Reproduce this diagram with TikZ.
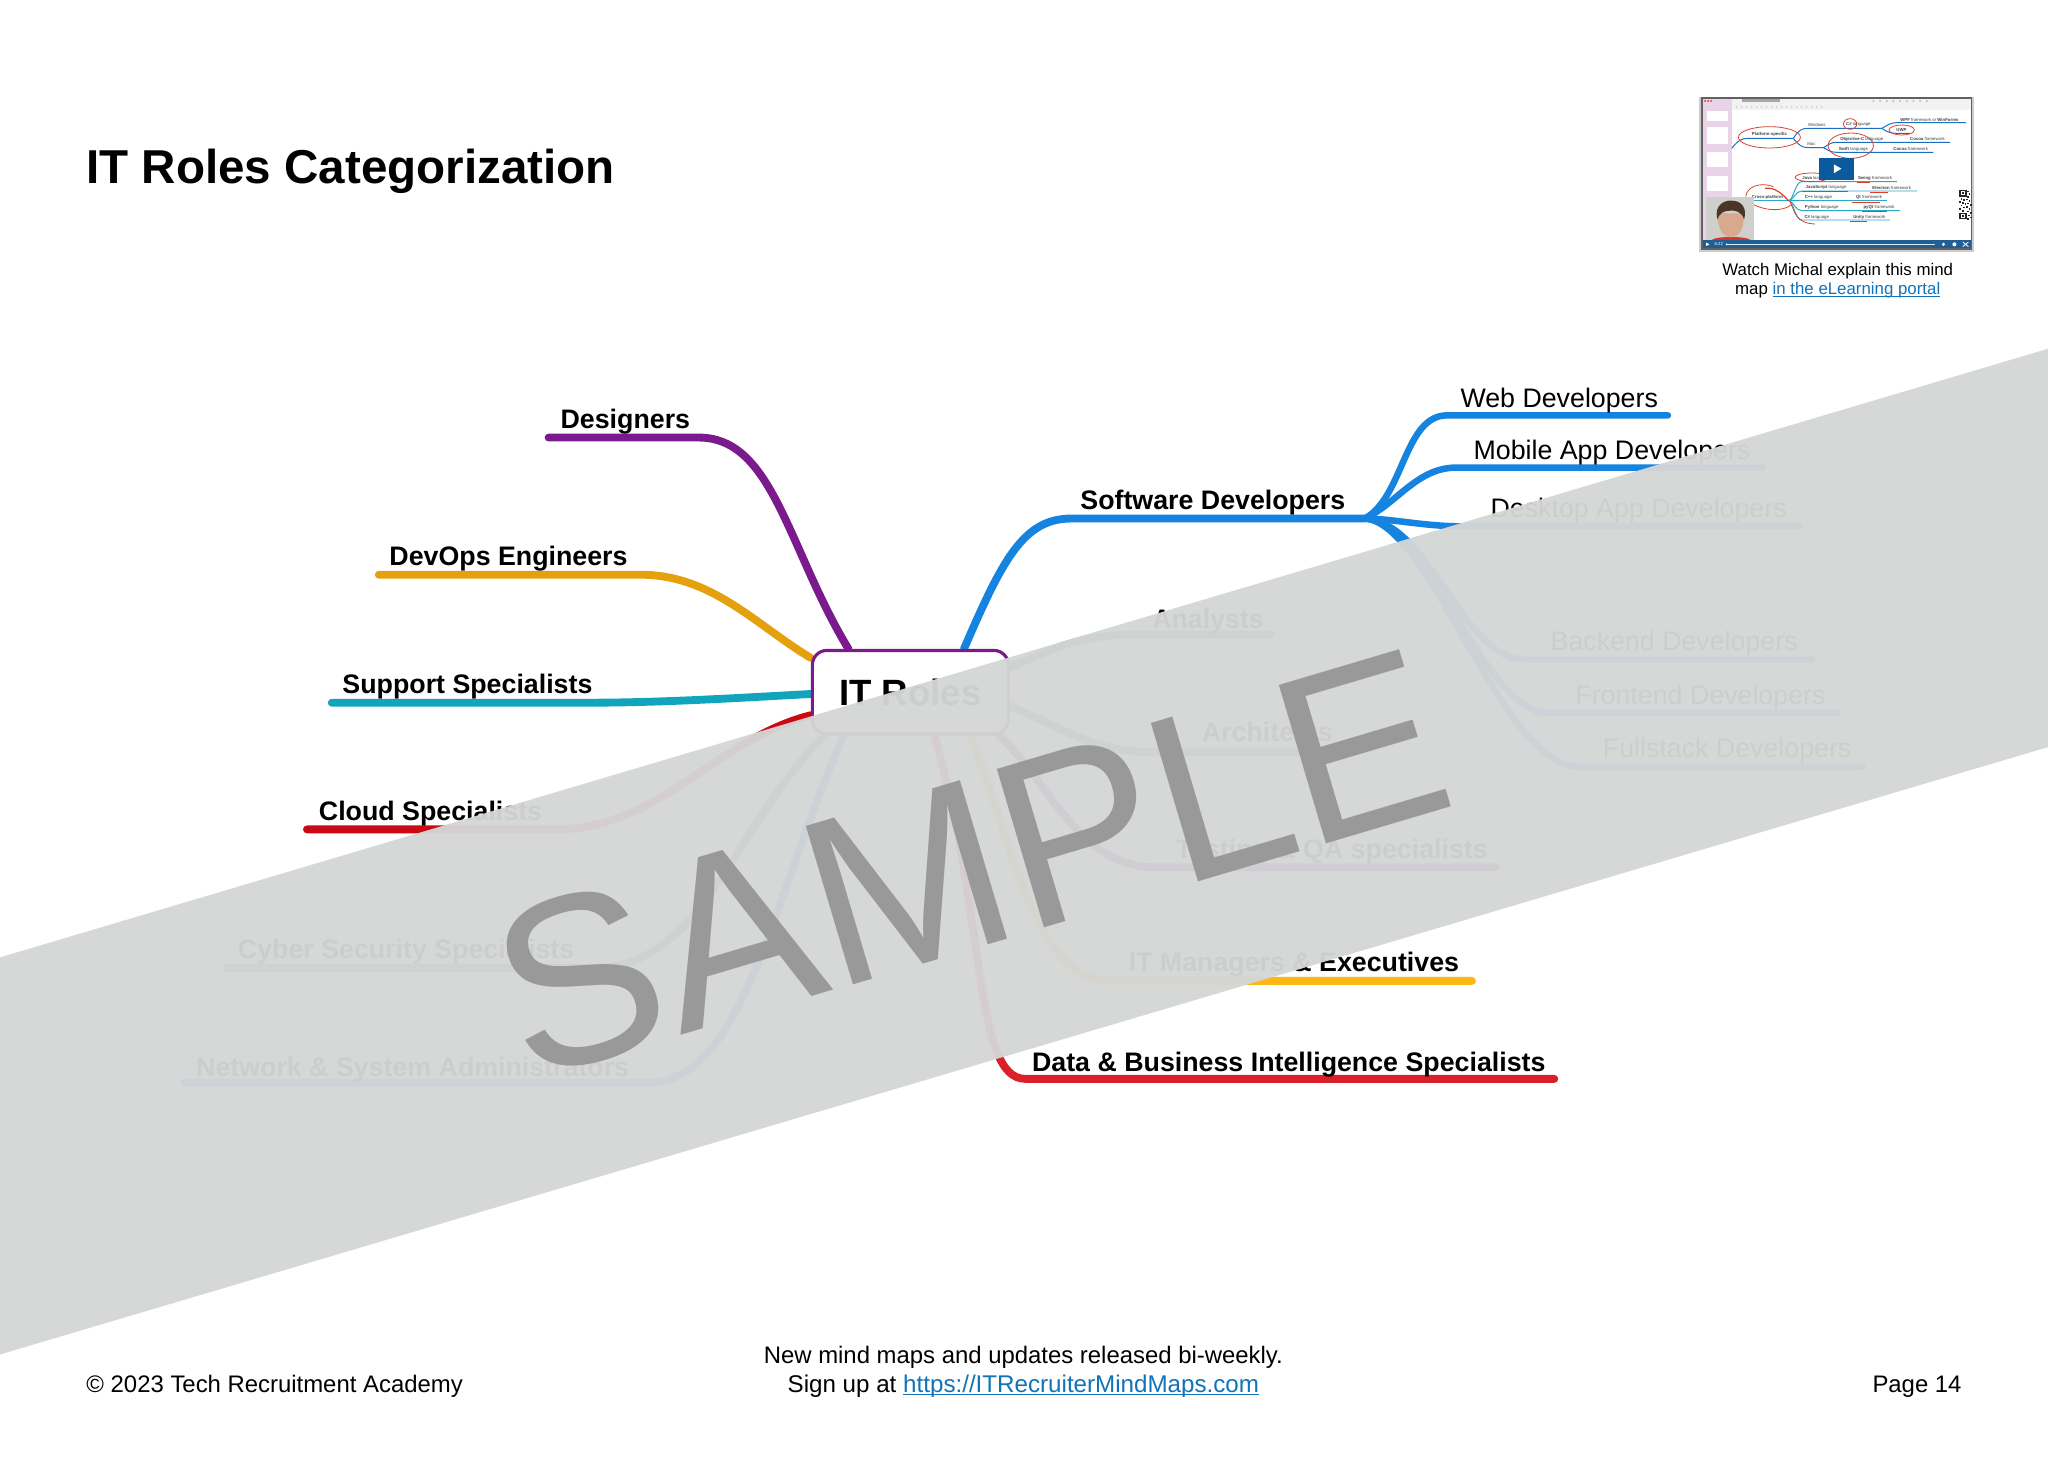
\documentclass[tikz,border=0pt]{standalone}
\usepackage{fontspec}
\setmainfont{Liberation Sans}
\usetikzlibrary{backgrounds}
\definecolor{cPurple}{HTML}{7B1A8C}
\definecolor{cAmber}{HTML}{E5A00D}
\definecolor{cTeal}{HTML}{10A5BC}
\definecolor{cRed}{HTML}{C90A14}
\definecolor{cGreen}{HTML}{3E9B4F}
\definecolor{cBlue}{HTML}{1484E0}
\definecolor{cYellow}{HTML}{FDB714}
\definecolor{cRedB}{HTML}{D9202B}
\definecolor{cLink}{HTML}{1173B8}
\definecolor{cBand}{HTML}{D5D6D6}
\definecolor{cMark}{HTML}{999999}
\definecolor{cScrib}{HTML}{D8402A}
\definecolor{cThumbBlue}{HTML}{1F6FC0}
\definecolor{cThumbCyan}{HTML}{2AA9C9}
\definecolor{cSide}{HTML}{E9D3E9}
\definecolor{cFace}{HTML}{D9A98F}
\definecolor{cHair}{HTML}{4A3527}
\definecolor{cWall}{HTML}{CFCFCC}
\definecolor{cShirt}{HTML}{D8352A}
\definecolor{cBar}{HTML}{1F5F96}
\definecolor{cPlay}{HTML}{0B5A9E}
\newcommand{\linkul}[2]{\setbox0\hbox{#2}\rlap{\rule[#1]{\wd0}{0.7pt}}\box0}
\tikzset{
  x=1pt,y=-1pt,
  branch/.style={line width=6pt,line cap=round,line join=round},
  twig/.style={line width=5pt,line cap=round,line join=round},
  lab/.style={inner sep=0pt,anchor=base west,font=\fontsize{20.5}{24}\selectfont},
  labb/.style={inner sep=0pt,anchor=base west,font=\fontsize{20.5}{24}\selectfont\bfseries},
  foot/.style={inner sep=0pt,font=\fontsize{18.3}{22}\selectfont},
  capt/.style={inner sep=0pt,anchor=base,font=\fontsize{12.9}{15}\selectfont},
  tiny/.style={inner sep=0pt,font=\fontsize{3.3}{4}\selectfont,text=black!75},
  tinyb/.style={tiny,font=\fontsize{3.3}{4}\selectfont\bfseries},
  scrib/.style={draw=cScrib,line width=0.6pt},
  tbl/.style={line width=0.75pt},
}
\begin{document}
\begin{tikzpicture}
\useasboundingbox (0,0) rectangle (1568,1121);

\node[inner sep=0pt,anchor=base west,font=\fontsize{36.4}{40}\selectfont\bfseries] (title) at (66,140.5) {IT Roles Categorization};

% central node
\node[draw=cPurple,fill=white,line width=2.4pt,rounded corners=11pt,minimum width=150pt,minimum height=64pt,inner sep=0pt,font=\fontsize{28}{32}\selectfont\bfseries] (root) at (697,530) {IT Roles};

% labels
\node[labb] (des) at (429,328) {Designers};
\node[labb] (dev) at (298,433) {DevOps Engineers};
\node[labb] (sup) at (262,531) {Support Specialists};
\node[labb] (clo) at (244,628) {Cloud Specialists};
\node[labb] (cyb) at (182,734) {Cyber Security Specialists};
\node[labb] (net) at (150,824) {Network \& System Administrators};
\node[labb] (sof) at (827,390) {Software Developers};
\node[lab] (web) at (1118,312) {Web Developers};
\node[lab] (mob) at (1128,352) {Mobile App Developers};
\node[lab] (dsk) at (1141,396) {Desktop App Developers};
\node[lab] (bac) at (1187,498) {Backend Developers};
\node[lab] (fro) at (1206,539) {Frontend Developers};
\node[lab] (ful) at (1227,580) {Fullstack Developers};
\node[labb] (ana) at (882,481) {Analysts};
\node[labb] (arc) at (920,568) {Architects};
\node[labb] (tes) at (900,657) {Testing \& QA specialists};
\node[labb] (itm) at (864,744) {IT Managers \& Executives};
\node[labb] (dat) at (790,820) {Data \& Business Intelligence Specialists};

% free ends and junction
\coordinate (eDes) at (420,335);
\coordinate (eDev) at (290,440);
\coordinate (eSup) at (254,538);
\coordinate (eClo) at (235,635);
\coordinate (eCyb) at (174,741);
\coordinate (eNet) at (141,829);
\coordinate (eAna) at (973,486);
\coordinate (eArc) at (1030,576);
\coordinate (eTes) at (1145,664);
\coordinate (eItm) at (1127,751);
\coordinate (eDat) at (1190,826);
\coordinate (swj) at (1045,397);
\coordinate (eWeb) at (1277,318);
\coordinate (eMob) at (1350,358);
\coordinate (eDsk) at (1378,403);
\coordinate (eBac) at (1387,505);
\coordinate (eFro) at (1407,546);
\coordinate (eFul) at (1426,587);

\begin{pgfonlayer}{background}
\fill[white] (0,0) rectangle (1568,1121);
\draw[branch,cPurple] (eDes) -- (535,335) .. controls (592,335) and (603,420) .. (root.145);
\draw[branch,cAmber] (eDev) -- (490,440) .. controls (545,440) and (578,478) .. (root.161.6);
\draw[branch,cTeal] (eSup) -- (450,538) .. controls (510,538) and (570,534) .. (root.181.5);
\draw[branch,cRed] (eClo) -- (425,635) .. controls (505,635) and (550,565) .. (root.193.5);
\draw[branch,cGreen] (eCyb) -- (455,741) .. controls (540,741) and (565,625) .. (root.207.3);
\draw[branch,cBlue] (eNet) -- (495,829) .. controls (570,829) and (590,690) .. (root.213.7);
\draw[branch,cRedB] (eDat) -- (785,826) .. controls (745,826) and (755,700) .. (root.299.4);
\draw[branch,cYellow] (eItm) -- (850,751) .. controls (790,751) and (775,640) .. (root.324);
\draw[branch,cPurple] (eTes) -- (885,664) .. controls (825,664) and (805,600) .. (root.334.8);
\draw[branch,cGreen] (eArc) -- (885,576) .. controls (835,576) and (810,555) .. (root.352.4);
\draw[branch,cGreen] (eAna) -- (865,486) .. controls (825,486) and (800,500) .. (root.14.9);
\draw[branch,cBlue] (root.39.4) .. controls (767,430) and (783,397) .. (820,397) -- (swj);
\draw[twig,cBlue] (swj) .. controls (1075,380) and (1075,318) .. (1108,318) -- (eWeb);
\draw[twig,cBlue] (swj) .. controls (1070,385) and (1085,358) .. (1115,358) -- (eMob);
\draw[twig,cBlue] (swj) .. controls (1065,397) and (1090,403) .. (1120,403) -- (eDsk);
\draw[twig,cBlue] (swj) .. controls (1095,400) and (1120,505) .. (1167,505) -- (eBac);
\draw[twig,cBlue] (swj) .. controls (1095,400) and (1135,546) .. (1186,546) -- (eFro);
\draw[twig,cBlue] (swj) .. controls (1095,400) and (1150,587) .. (1208,587) -- (eFul);
\end{pgfonlayer}

% video thumbnail, in crop coordinates
\begin{scope}[shift={(1286.3,61.25)},scale=0.2552]
\fill[black!20] (57,50) rectangle (883,516);
\fill[black!62] (63,52) rectangle (877,510);
\fill[white] (68,56) rectangle (872,505);
\fill[cSide] (68,56) rectangle (157,480);
\fill[black!5] (157,56) rectangle (872,90);
\foreach \a/\b/\c/\d in {80/92/143/122,80/142/143/192,80/216/143/262,80/288/143/332}
  \fill[white] (\a,\b) rectangle (\c,\d);
\foreach \a in {75,84,93} \fill[red!70!orange] (\a,63) circle (3);
\fill[black!35] (185,58) rectangle (300,66);
\foreach \a in {170,185,...,430} \fill[black!35] (\a,81) circle (2);
\foreach \a in {580,600,...,740} \fill[black!30] (\a,63) circle (3);
% blue branches
\draw[tbl,cThumbBlue] (155,205) .. controls (175,180) and (185,175) .. (205,175) -- (340,175);
\draw[tbl,cThumbBlue] (340,175) .. controls (355,150) and (365,145) .. (385,145) -- (605,145);
\draw[tbl,cThumbBlue] (605,145) .. controls (625,135) and (630,128) .. (650,128) -- (857,128);
\draw[tbl,cThumbBlue] (605,145) .. controls (620,155) and (630,160) .. (650,160) -- (690,160);
\draw[tbl,cThumbBlue] (340,175) .. controls (355,195) and (365,203) .. (385,203) -- (430,203);
\draw[tbl,cThumbBlue] (430,203) .. controls (445,195) and (450,187) .. (470,187) -- (810,187);
\draw[tbl,cThumbBlue] (430,203) .. controls (445,210) and (450,217) .. (470,217) -- (760,217);
% cyan branches
\draw[tbl,cThumbCyan] (205,362) -- (325,362);
\foreach \e/\f in {305/650,333/710,362/620,392/660,420/630}
  \draw[tbl,cThumbCyan] (325,362) .. controls (340,362) and (345,\e) .. (365,\e) -- (\f,\e);
% red scribbles
\draw[scrib] (268,172) ellipse [x radius=93,y radius=32];
\draw[scrib] (510,132) ellipse [x radius=20,y radius=16];
\draw[scrib] (665,150) ellipse [x radius=38,y radius=15];
\draw[scrib] (512,197) ellipse [x radius=68,y radius=38];
\draw[scrib] (395,292) ellipse [x radius=50,y radius=13];
\draw[scrib,line width=0.9pt] (255,325) .. controls (285,320) and (310,345) .. (325,362);
\draw[scrib] (197,350) .. controls (200,320) and (240,305) .. (280,320);
\draw[scrib] (205,365) .. controls (250,395) and (310,395) .. (332,375);
\draw[scrib] (330,365) .. controls (345,400) and (350,430) .. (405,432);
\draw[scrib] (365,333) -- (505,333);
\draw[scrib] (515,366) -- (600,366);
\draw[scrib] (545,394) -- (620,394);
\draw[scrib] (510,424) -- (560,424);
\draw[scrib] (570,337) -- (625,337);
\draw[scrib] (530,306) -- (570,306);
% texts
\node[tinyb] (t1) at (268,164) {Platform-specific};
\node[tiny] (t2) at (410,134) {Windows};
\node[tiny] (t3) at (535,134) {\textbf{C\#} language};
\node[tiny] (t4) at (748,119) {\textbf{WPF} framework or \textbf{WinForms}};
\node[tinyb] (t5) at (664,149) {UWP};
\node[tiny] (t6) at (394,192) {Mac};
\node[tiny] (t7) at (545,178) {\textbf{Objective-C} language};
\node[tiny] (t8) at (742,178) {\textbf{Cocoa} framework};
\node[tiny] (t9) at (520,208) {\textbf{Swift} language};
\node[tiny] (t10) at (692,208) {\textbf{Cocoa} framework};
\node[tiny] (t11) at (410,294) {\textbf{Java} language};
\node[tiny] (t12) at (585,294) {\textbf{Swing} framework};
\node[tiny] (t13) at (438,323) {\textbf{JavaScript} language};
\node[tiny] (t14) at (635,323) {\textbf{Electron} framework};
\node[tinyb] (t15) at (262,352) {Cross-platform};
\node[tiny] (t16) at (415,352) {\textbf{C++} language};
\node[tiny] (t17) at (567,352) {\textbf{Qt} framework};
\node[tiny] (t18) at (425,382) {\textbf{Python} language};
\node[tiny] (t19) at (597,382) {\textbf{pyQt} framework};
\node[tiny] (t20) at (410,411) {\textbf{C\#} language};
\node[tiny] (t21) at (568,411) {\textbf{Unity} framework};
% QR code
\fill[white] (836,328) rectangle (874,420);
\foreach \a/\b in {838/330,838/398} {
  \fill[black!85] (\a,\b) rectangle ++(22,20);
  \fill[white] (\a+4,\b+4) rectangle ++(14,12);
  \fill[black!85] (\a+7,\b+7) rectangle ++(8,6);
}
\foreach \a/\b in {862/332,866/340,862/348,842/354,850/358,858/356,866/360,838/364,846/366,854/370,862/368,870/372,842/374,850/380,858/378,866/384,838/384,846/390,862/392,870/396,864/404,870/410,862/414}
  \fill[black!85] (\a,\b) rectangle ++(5,5);
% presenter
\fill[cWall] (78,352) rectangle (222,480);
\fill[cShirt] (95,480) .. controls (105,468) and (200,468) .. (212,480) -- cycle;
\fill[cFace] (112,400) .. controls (112,455) and (135,472) .. (152,472) .. controls (172,472) and (192,455) .. (192,400) -- cycle;
\fill[cHair] (112,418) .. controls (100,370) and (140,360) .. (155,362) .. controls (185,362) and (202,385) .. (192,418) .. controls (185,395) and (165,390) .. (150,392) .. controls (130,392) and (118,400) .. (112,418) -- cycle;
% player bar
\fill[cBar] (68,480) rectangle (872,505);
\draw[white!85!cThumbBlue,line width=0.4pt] (140,493) -- (765,493);
\fill[white] (78,488) -- (88,493) -- (78,498) -- cycle;
\fill[white] (140,493) circle (3);
\node[tiny,text=white] (t22) at (116,493) {6:22};
\fill[white] (790,493) circle (5);
\fill[white] (823,493) circle (6);
\draw[white,line width=0.6pt] (848,486) -- (865,500) (848,500) -- (865,486);
% play button
\fill[cPlay] (417,233) rectangle (522,300);
\fill[white] (461,253) -- (484,266) -- (461,280) -- cycle;
\end{scope}

% caption and footer
\node[capt] (cap1) at (1407,211) {Watch Michal explain this mind};
\node[capt] (cap2) at (1407,225.5) {map \textcolor{cLink}{\linkul{-1.5pt}{in the eLearning portal}}};
\node[foot,anchor=base west] (copy) at (66,1066) {© 2023 Tech Recruitment Academy};
\node[foot,anchor=base] (news) at (783.5,1044) {New mind maps and updates released bi-weekly.};
\node[foot,anchor=base,font=\fontsize{18.5}{22}\selectfont] (sign) at (783.5,1066) {Sign up at \textcolor{cLink}{\linkul{-2pt}{https://ITRecruiterMindMaps.com}}};
\node[foot,anchor=base east] (page) at (1502,1066) {Page 14};

% watermark
\fill[cBand,opacity=0.96] (0,733) -- (1568,267) -- (1568,572) -- (0,1037) -- cycle;
\node[inner sep=0pt,rotate=16.55,text=cMark,font=\fontsize{184}{184}\selectfont] (wm) at (743,661) {SAMPLE};
\end{tikzpicture}
\end{document}
